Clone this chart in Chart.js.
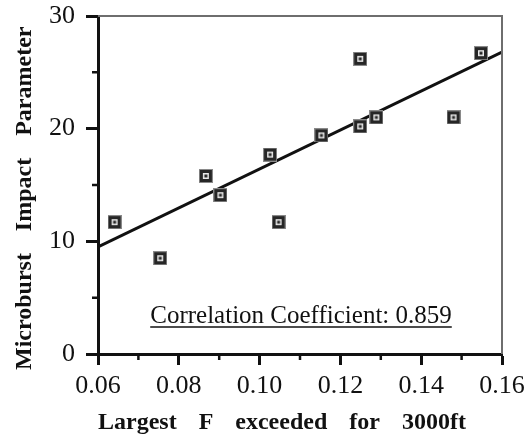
<!DOCTYPE html>
<html>
<head>
<meta charset="utf-8">
<script src="https://cdn.jsdelivr.net/npm/chart.js@4.4.1/dist/chart.umd.min.js"></script>
<style>
  html, body { margin: 0; padding: 0; background: #fff; }
</style>
</head>
<body>
<canvas id="impact" width="528" height="438"></canvas>
<script>
// Largest F exceeded at 3000 ft against the microburst impact parameter
const largestF = [0.0641, 0.0754, 0.0867, 0.0903, 0.1026, 0.1047, 0.1153, 0.1249, 0.1249, 0.1289, 0.1480, 0.1548]
const impact = [11.7, 8.5, 15.8, 14.1, 17.7, 11.7, 19.4, 26.2, 20.2, 21.0, 21.0, 26.7]
// fitted line, ends at the x axis limits
const fitX = [0.06, 0.16]
const fitY = [9.5, 26.8]
const correlation = 0.859
// axis ticks
const xTicks = [0.06, 0.08, 0.10, 0.12, 0.14, 0.16]
const xMinor = [0.07, 0.09, 0.11, 0.13, 0.15]
const yTicks = [0, 10, 20, 30]
const yMinor = [5, 15, 25]
const xTitle = 'Largest F exceeded for 3000ft'
const yTitle = 'Microburst Impact Parameter'

const ink = '#111'
const serif = '"Liberation Serif", "Times New Roman", serif'

// square marker with a small hollow centre
const marker = document.createElement('canvas')
marker.width = 14
marker.height = 14
let m = marker.getContext('2d')
m.fillStyle = '#8a8a8a'
m.fillRect(0, 0, 14, 14)
m.fillStyle = '#262626'
m.fillRect(1, 1, 12, 12)
m.strokeStyle = '#e8e8e8'
m.lineWidth = 1.5
m.strokeRect(4.75, 4.75, 4.5, 4.5)

// box frame, minor ticks, annotation and axis titles
const decorations = {
    id: 'decorations',
    afterDraw(chart) {
        const {ctx, chartArea: a, scales: {x, y}} = chart
        ctx.save()
        // top and right edges of the box
        ctx.strokeStyle = '#6e6e6e'
        ctx.lineWidth = 2
        ctx.beginPath()
        ctx.moveTo(a.left, a.top)
        ctx.lineTo(a.right, a.top)
        ctx.lineTo(a.right, a.bottom)
        ctx.stroke()
        // minor ticks
        ctx.strokeStyle = ink
        ctx.lineWidth = 2.5
        ctx.beginPath()
        xMinor.forEach((v) => {
            let px = x.getPixelForValue(v)
            ctx.moveTo(px, a.bottom)
            ctx.lineTo(px, a.bottom + 6)
        })
        yMinor.forEach((v) => {
            let py = y.getPixelForValue(v)
            ctx.moveTo(a.left, py)
            ctx.lineTo(a.left - 6, py)
        })
        ctx.stroke()
        // correlation note, underlined
        ctx.fillStyle = ink
        ctx.font = '25px ' + serif
        ctx.textAlign = 'center'
        ctx.textBaseline = 'alphabetic'
        let note = 'Correlation Coefficient: ' + correlation.toFixed(3)
        let cx = (a.left + a.right) / 2 + 1
        let cy = a.bottom - 31
        ctx.fillText(note, cx, cy)
        let w = ctx.measureText(note).width
        ctx.lineWidth = 1.5
        ctx.beginPath()
        ctx.moveTo(cx - w / 2, cy + 4)
        ctx.lineTo(cx + w / 2, cy + 4)
        ctx.stroke()
        // axis titles, wide word gaps
        ctx.font = 'bold 24px ' + serif
        ctx.wordSpacing = '16px'
        ctx.textAlign = 'left'
        ctx.fillText(xTitle, a.left, 429)
        ctx.translate(31, 370)
        ctx.rotate(-Math.PI / 2)
        ctx.fillText(yTitle, 0, 0)
        ctx.restore()
    }
}

let impactCanvas = document.querySelector('canvas#impact')
var impactChart = new Chart(impactCanvas, {
    type: 'scatter',
    data: {
        datasets: [{
            label: 'Fit',
            data: fitX.map((v, i) => ({x: v, y: fitY[i]})),
            showLine: true,
            borderColor: ink,
            borderWidth: 3,
            pointRadius: 0,
            order: 2
        }, {
            label: 'Cases',
            data: largestF.map((v, i) => ({x: v, y: impact[i]})),
            pointStyle: marker,
            pointRadius: 7,
            order: 1
        }]
    },
    options: {
        responsive: false,
        animation: false,
        devicePixelRatio: 1,
        layout: {
            padding: {top: 16, right: 26, left: 0, bottom: 0}
        },
        plugins: {
            legend: {display: false},
            tooltip: {enabled: false}
        },
        scales: {
            x: {
                type: 'linear',
                min: 0.06,
                max: 0.16,
                afterBuildTicks: (s) => { s.ticks = xTicks.map((v) => ({value: v})) },
                afterFit: (s) => {
                    s.height = 84
                    s.paddingLeft = 0
                    s.paddingRight = 0
                },
                grid: {drawOnChartArea: false, tickLength: 11, tickWidth: 3, tickColor: ink},
                border: {color: ink, width: 3},
                ticks: {
                    font: {family: serif, size: 26},
                    color: ink,
                    padding: 6,
                    maxRotation: 0,
                    autoSkip: false,
                    callback: (v) => v.toFixed(2)
                }
            },
            y: {
                type: 'linear',
                min: 0,
                max: 30,
                afterBuildTicks: (s) => { s.ticks = yTicks.map((v) => ({value: v})) },
                afterFit: (s) => {
                    s.width = 98
                    s.paddingTop = 0
                    s.paddingBottom = 0
                },
                grid: {drawOnChartArea: false, tickLength: 12, tickWidth: 3, tickColor: ink},
                border: {color: ink, width: 3},
                ticks: {
                    font: {family: serif, size: 26},
                    color: ink,
                    padding: 11,
                    callback: (v) => String(v)
                }
            }
        }
    },
    plugins: [decorations]
})
</script>
</body>
</html>
